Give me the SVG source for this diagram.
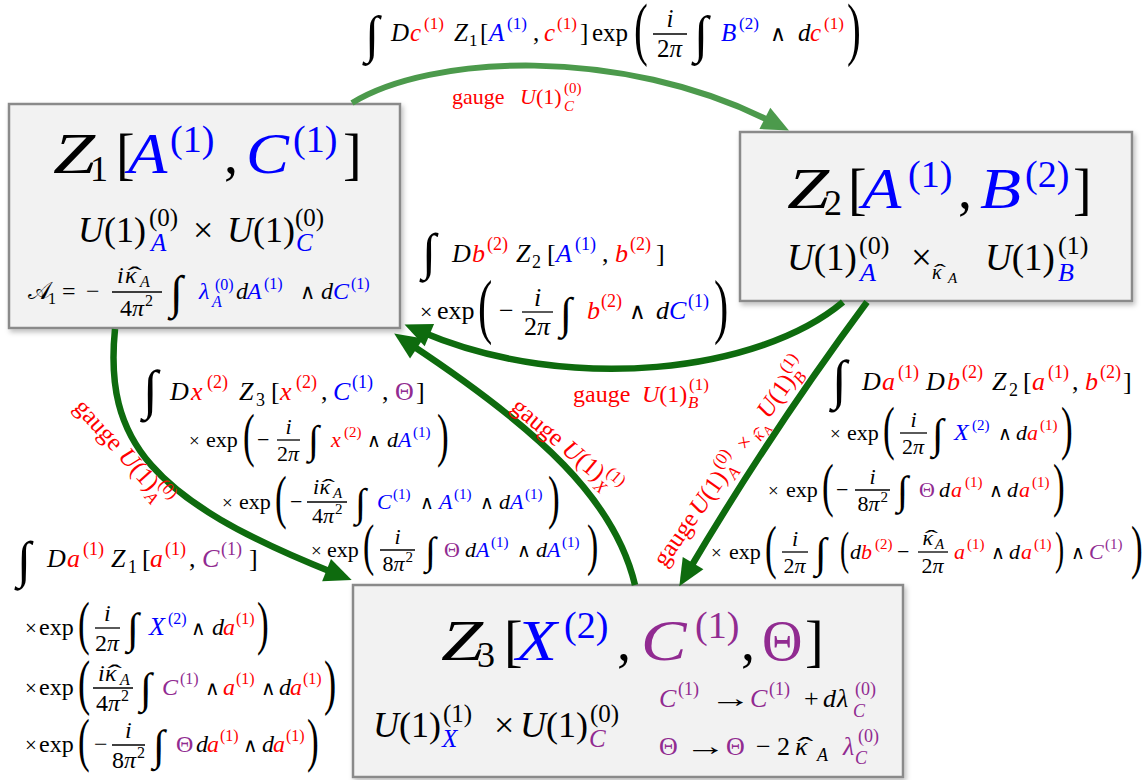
<svg xmlns="http://www.w3.org/2000/svg" width="1148" height="780" viewBox="0 0 1148 780" font-family="Liberation Serif, Times New Roman, DejaVu Serif, serif">
<defs>
<style>
text{font-family:'Liberation Serif','Times New Roman','DejaVu Serif',serif;fill:#000}
.i{font-style:italic}
.r{fill:#f00}
.b{fill:#00f}
.p{fill:#912b91}
.w{font-family:'DejaVu Sans ExtraLight','DejaVu Sans',sans-serif;font-style:normal}
.box{fill:#f2f2f2;stroke:#8a8a8a;stroke-width:2.5}
.ar{fill:none;stroke:#0e6b0e;stroke-width:6.5}
.ar1{fill:none;stroke:#4c9a4c;stroke-width:6}
.fl{stroke:#000;stroke-width:1.3;fill:none}
</style>
<marker id="ahd" markerUnits="userSpaceOnUse" markerWidth="30" markerHeight="26" refX="8" refY="12" orient="auto" overflow="visible"><path d="M0,0 L27,12 L0,24 z" fill="#0e6b0e"/></marker>
<marker id="ahl" markerUnits="userSpaceOnUse" markerWidth="30" markerHeight="26" refX="8" refY="12" orient="auto" overflow="visible"><path d="M0,0 L27,12 L0,24 z" fill="#4c9a4c"/></marker>
<filter id="sh" x="-5%" y="-5%" width="115%" height="120%"><feDropShadow dx="2" dy="3" stdDeviation="2.5" flood-color="#000" flood-opacity="0.25"/></filter>
</defs>
<rect width="1148" height="780" fill="#fff"/>

<g id="z1">
<rect class="box" x="9" y="104" width="391" height="224" filter="url(#sh)"/>
<text class="i" font-size="56" transform="translate(53,173) scale(1.35,1)">Z</text>
<text class="i b" font-size="56" transform="translate(128,173) scale(1.15,1)">A</text>
<text class="i b" font-size="56" transform="translate(246,173) scale(1.15,1)">C</text>
<text font-size="56"><tspan x="90" y="181" font-size="36">1</tspan><tspan x="116" y="173">[</tspan><tspan class="b" x="170" y="152" font-size="38">(1)</tspan><tspan x="224" y="173">,</tspan><tspan class="b" x="293" y="152" font-size="38">(1)</tspan><tspan x="343" y="173">]</tspan></text>
<text font-size="36"><tspan class="i" x="78" y="242">U</tspan><tspan>(1)</tspan><tspan x="149" y="226" font-size="25">(0)</tspan><tspan class="i b" x="151" y="251" font-size="25">A</tspan><tspan x="193" y="242">×</tspan><tspan class="i" x="227" y="242">U</tspan><tspan>(1)</tspan><tspan x="295" y="226" font-size="25">(0)</tspan><tspan class="i b" x="296" y="251" font-size="25">C</tspan></text>
<text font-size="24"><tspan x="28" y="299">𝒜</tspan><tspan x="48" y="304" font-size="16">1</tspan><tspan x="62" y="299">=</tspan><tspan x="86" y="299">−</tspan><tspan class="i" x="117" y="283">i</tspan><tspan class="i" x="125" y="283">κ</tspan><tspan class="i" x="140" y="287" font-size="16">A</tspan><tspan x="120" y="316">4</tspan><tspan class="i" x="132" y="316">π</tspan><tspan x="145" y="306" font-size="16">2</tspan><tspan class="i b" x="199" y="299">λ</tspan><tspan class="b" x="215" y="290" font-size="16">(0)</tspan><tspan class="i b" x="212" y="307" font-size="16">A</tspan><tspan class="i" x="236" y="299">d</tspan><tspan class="i b" x="247" y="299">A</tspan><tspan class="b" x="264" y="289" font-size="16">(1)</tspan><tspan class="w" x="300" y="299" font-size="21">∧</tspan><tspan class="i" x="321" y="299">d</tspan><tspan class="i b" x="333" y="299">C</tspan><tspan class="b" x="351" y="289" font-size="16">(1)</tspan></text>
<text font-size="24" transform="translate(127.4,283) scale(1.8,1)">ˆ</text>
<path class="fl" d="M112,292H162"/>
<text font-size="46.5" transform="translate(170,307.8)">∫</text>
</g>

<g id="z2">
<rect class="box" x="740" y="132" width="392" height="169" filter="url(#sh)"/>
<text class="i" font-size="56" transform="translate(787,208) scale(1.35,1)">Z</text>
<text class="i b" font-size="56" transform="translate(862,208) scale(1.15,1)">A</text>
<text class="i b" font-size="56" transform="translate(980,208) scale(1.2,1)">B</text>
<text font-size="56"><tspan x="824" y="215" font-size="36">2</tspan><tspan x="848" y="208">[</tspan><tspan class="b" x="908" y="187" font-size="38">(1)</tspan><tspan x="958" y="208">,</tspan><tspan class="b" x="1025" y="187" font-size="38">(2)</tspan><tspan x="1073" y="208">]</tspan></text>
<text font-size="37"><tspan class="i" x="787" y="270">U</tspan><tspan>(1)</tspan><tspan x="859" y="254" font-size="26">(0)</tspan><tspan class="i b" x="860" y="281" font-size="26">A</tspan><tspan x="911" y="270">×</tspan><tspan class="i" x="932" y="279" font-size="20">κ</tspan><tspan class="i" x="948" y="283" font-size="15">A</tspan><tspan class="i" x="985" y="270">U</tspan><tspan>(1)</tspan><tspan x="1058" y="254" font-size="26">(1)</tspan><tspan class="i b" x="1058" y="281" font-size="26">B</tspan></text>
<text font-size="20" transform="translate(934,279) scale(1.8,1)">ˆ</text>
</g>

<g id="z3">
<rect class="box" x="353" y="585" width="550" height="192" filter="url(#sh)"/>
<text class="i" font-size="56" transform="translate(441,660) scale(1.35,1)">Z</text>
<text class="i b" font-size="56" transform="translate(516,660) scale(1.2,1)">X</text>
<text class="i p" font-size="56" transform="translate(641,660) scale(1.22,1)">C</text>
<text font-size="56"><tspan x="477" y="667" font-size="36">3</tspan><tspan x="504" y="660">[</tspan><tspan class="b" x="564" y="638" font-size="38">(2)</tspan><tspan x="617" y="660">,</tspan><tspan class="p" x="695" y="638" font-size="38">(1)</tspan><tspan x="741" y="660">,</tspan><tspan class="p" x="762" y="660">Θ</tspan><tspan x="805" y="660">]</tspan></text>
<text font-size="36"><tspan class="i" x="373" y="737">U</tspan><tspan>(1)</tspan><tspan x="443" y="722" font-size="25">(1)</tspan><tspan class="i b" x="442" y="747" font-size="25">X</tspan><tspan x="494" y="737">×</tspan><tspan class="i" x="520" y="737">U</tspan><tspan>(1)</tspan><tspan x="590" y="722" font-size="25">(0)</tspan><tspan class="i p" x="589" y="747" font-size="25">C</tspan></text>
<text font-size="26"><tspan class="i p" x="659" y="707">C</tspan><tspan class="p" x="678" y="695" font-size="18">(1)</tspan><tspan class="i p" x="750" y="707">C</tspan><tspan class="p" x="769" y="695" font-size="18">(1)</tspan><tspan x="804" y="707">+</tspan><tspan class="i" x="823" y="707">d</tspan><tspan class="i" x="837" y="707">λ</tspan><tspan class="p" x="855" y="695" font-size="18">(0)</tspan><tspan class="i p" x="853" y="717" font-size="18">C</tspan></text>
<text font-size="26" transform="translate(710,707) scale(1.6,1)">→</text>
<text font-size="26"><tspan class="p" x="659" y="755">Θ</tspan><tspan class="p" x="726" y="755">Θ</tspan><tspan x="756" y="755">−</tspan><tspan x="777" y="755">2</tspan><tspan class="i" x="795" y="755">κ</tspan><tspan class="i" x="817" y="761" font-size="18">A</tspan><tspan class="i p" x="843" y="755">λ</tspan><tspan class="p" x="858" y="742" font-size="18">(0)</tspan><tspan class="i p" x="855" y="764" font-size="18">C</tspan></text>
<text font-size="26" transform="translate(685,755) scale(1.6,1)">→</text>
<text font-size="26" transform="translate(797.6,755) scale(1.8,1)">ˆ</text>
</g>

<g id="connectors">
<path class="ar1" d="M352,103 C430,55 620,45 772,122" marker-end="url(#ahl)"/>
<path class="ar" d="M843,302 C760,372 570,395 422,332" marker-end="url(#ahd)"/>
<path class="ar" d="M867,302 Q772,430 689,570" marker-end="url(#ahd)"/>
<path class="ar" d="M635,585 C615,500 540,430 410,344" marker-end="url(#ahd)"/>
<path class="ar" d="M115,329 C104,440 150,500 334,573" marker-end="url(#ahd)"/>
</g>

<g id="labels">
<text font-size="22"><tspan class="r" x="452" y="104">gauge</tspan><tspan class="i r" x="520" y="104">U</tspan><tspan class="r">(1)</tspan><tspan class="r" x="564" y="93" font-size="15">(0)</tspan><tspan class="i r" x="564" y="111" font-size="15">C</tspan></text>
<text font-size="24"><tspan class="r" x="573" y="402">gauge</tspan><tspan class="i r" x="642" y="402">U</tspan><tspan class="r">(1)</tspan><tspan class="r" x="689" y="390" font-size="17">(1)</tspan><tspan class="i r" x="688" y="408" font-size="17">B</tspan></text>
<g transform="translate(510,409) rotate(40)"><text font-size="25"><tspan class="r" x="0" y="0">gauge</tspan><tspan class="i r" x="66" y="0">U</tspan><tspan class="r">(1)</tspan><tspan class="r" x="115" y="-11" font-size="17">(1)</tspan><tspan class="i r" x="114" y="7" font-size="17">X</tspan></text></g>
<g transform="translate(665,568) rotate(-55)"><text font-size="25"><tspan class="r" x="0" y="0">gauge</tspan><tspan class="i r" x="63" y="0">U</tspan><tspan class="r">(1)</tspan><tspan class="r" x="112" y="-11" font-size="17">(0)</tspan><tspan class="i r" x="112" y="7" font-size="17">A</tspan><tspan class="r" x="142" y="0" font-size="22">×</tspan><tspan class="i r" x="158" y="6" font-size="17">κ</tspan><tspan class="i r" x="168" y="9" font-size="12">A</tspan><tspan class="i r" x="181" y="0">U</tspan><tspan class="r">(1)</tspan><tspan class="r" x="229" y="-11" font-size="17">(1)</tspan><tspan class="i r" x="228" y="7" font-size="17">B</tspan></text><text class="r" font-size="17" transform="translate(159.7,6) scale(1.8,1)">ˆ</text></g>
<g transform="translate(73,408) rotate(48)"><text font-size="25"><tspan class="r" x="0" y="0">gauge</tspan><tspan class="i r" x="66" y="0">U</tspan><tspan class="r">(1)</tspan><tspan class="r" x="114" y="-11" font-size="17">(0)</tspan><tspan class="i r" x="114" y="7" font-size="17">A</tspan></text></g>
</g>

<g id="f-top">
<text font-size="51.8" transform="translate(365,52)">∫</text>
<text font-size="51.8" transform="translate(694,52)">∫</text>
<text font-size="69.2" transform="translate(634,51.8) scale(0.6,1)">(</text>
<text font-size="69.2" transform="translate(847,51.8) scale(0.6,1)">)</text>
<path class="fl" d="M653,34H687"/>
<text font-size="25"><tspan class="i" x="391" y="41">D</tspan><tspan class="i r" x="410" y="41">c</tspan><tspan class="r" x="424" y="29" font-size="17">(1)</tspan><tspan class="i" x="454" y="41">Z</tspan><tspan x="469" y="46" font-size="17">1</tspan><tspan x="480" y="41">[</tspan><tspan class="i b" x="489" y="41">A</tspan><tspan class="b" x="507" y="29" font-size="17">(1)</tspan><tspan x="533" y="41">,</tspan><tspan class="i r" x="544" y="41">c</tspan><tspan class="r" x="557" y="29" font-size="17">(1)</tspan><tspan x="580" y="41">]</tspan><tspan x="592" y="41">exp</tspan><tspan class="i" x="666.5" y="27">i</tspan><tspan x="657" y="57">2</tspan><tspan class="i">π</tspan><tspan class="i b" x="721" y="41">B</tspan><tspan class="b" x="739" y="29" font-size="17">(2)</tspan><tspan class="w" x="770" y="41" font-size="22">∧</tspan><tspan class="i" x="798" y="41">d</tspan><tspan class="i r" x="810" y="41">c</tspan><tspan class="r" x="824" y="29" font-size="17">(1)</tspan></text>
</g>

<g id="f-a">
<text font-size="50.9" transform="translate(422,268.8)">∫</text>
<text font-size="26"><tspan class="i" x="452" y="262">D</tspan><tspan class="i r" x="472" y="262">b</tspan><tspan class="r" x="487" y="250" font-size="18">(2)</tspan><tspan class="i" x="516" y="262">Z</tspan><tspan x="532" y="268" font-size="18">2</tspan><tspan x="547" y="262">[</tspan><tspan class="i b" x="556" y="262">A</tspan><tspan class="b" x="575" y="250" font-size="18">(1)</tspan><tspan x="602" y="262">,</tspan><tspan class="i r" x="615" y="262">b</tspan><tspan class="r" x="630" y="250" font-size="18">(2)</tspan><tspan x="656" y="262">]</tspan></text>
<text font-size="71.5" transform="translate(478,330.3) scale(0.6,1)">(</text>
<text font-size="71.5" transform="translate(714,330.3) scale(0.6,1)">)</text>
<path class="fl" d="M522,312H553"/>
<text font-size="43.9" transform="translate(560,328.4)">∫</text>
<text font-size="26"><tspan x="420" y="319" font-size="22">×</tspan><tspan x="437" y="319">exp</tspan><tspan x="499" y="319">−</tspan><tspan class="i" x="534" y="306">i</tspan><tspan x="524" y="335">2</tspan><tspan class="i">π</tspan><tspan class="i r" x="587" y="319">b</tspan><tspan class="r" x="601" y="307" font-size="18">(2)</tspan><tspan class="w" x="629" y="319" font-size="23">∧</tspan><tspan class="i" x="656" y="319">d</tspan><tspan class="i b" x="669" y="319">C</tspan><tspan class="b" x="688" y="307" font-size="18">(1)</tspan></text>
</g>

<g id="f-b">
<text font-size="54.4" transform="translate(143,408)">∫</text>
<text font-size="26"><tspan class="i" x="170" y="400">D</tspan><tspan class="i r" x="191" y="400">x</tspan><tspan class="r" x="207" y="388" font-size="18">(2)</tspan><tspan class="i" x="239" y="400">Z</tspan><tspan x="256" y="406" font-size="18">3</tspan><tspan x="271" y="400">[</tspan><tspan class="i r" x="280" y="400">x</tspan><tspan class="r" x="296" y="388" font-size="18">(2)</tspan><tspan x="321" y="400">,</tspan><tspan class="i b" x="333" y="400">C</tspan><tspan class="b" x="352" y="388" font-size="18">(1)</tspan><tspan x="382" y="400">,</tspan><tspan class="p" x="395" y="400">Θ</tspan><tspan x="416" y="400">]</tspan></text>
<text font-size="58.6" transform="translate(243,454.6) scale(0.6,1)">(</text>
<text font-size="58.6" transform="translate(437,454.6) scale(0.6,1)">)</text>
<path class="fl" d="M277,440H300"/>
<text font-size="39.5" transform="translate(308,453.3)">∫</text>
<text font-size="22"><tspan x="189" y="447" font-size="19">×</tspan><tspan x="206" y="447">exp</tspan><tspan x="257" y="447">−</tspan><tspan class="i" x="285.5" y="434">i</tspan><tspan x="277" y="461">2</tspan><tspan class="i">π</tspan><tspan class="i r" x="331" y="447">x</tspan><tspan class="r" x="344" y="437" font-size="15">(2)</tspan><tspan class="w" x="367" y="447" font-size="19">∧</tspan><tspan class="i" x="387" y="447">d</tspan><tspan class="i b" x="398" y="447">A</tspan><tspan class="b" x="413" y="437" font-size="15">(1)</tspan></text>
<text font-size="58.6" transform="translate(275,516.6) scale(0.6,1)">(</text>
<text font-size="58.6" transform="translate(548,516.6) scale(0.6,1)">)</text>
<path class="fl" d="M307,502H347"/>
<text font-size="39.5" transform="translate(355,516.3)">∫</text>
<text font-size="22"><tspan x="222" y="509" font-size="19">×</tspan><tspan x="239" y="509">exp</tspan><tspan x="290" y="509">−</tspan><tspan class="i" x="313" y="494">i</tspan><tspan class="i" x="319.5" y="494">κ</tspan><tspan class="i" x="333" y="498" font-size="15">A</tspan><tspan x="312" y="523">4</tspan><tspan class="i" x="323" y="523">π</tspan><tspan x="335" y="514" font-size="15">2</tspan><tspan class="i b" x="377" y="509">C</tspan><tspan class="b" x="393" y="499" font-size="15">(1)</tspan><tspan class="w" x="420" y="509" font-size="19">∧</tspan><tspan class="i b" x="439" y="509">A</tspan><tspan class="b" x="454" y="499" font-size="15">(1)</tspan><tspan class="w" x="480" y="509" font-size="19">∧</tspan><tspan class="i" x="499" y="509">d</tspan><tspan class="i b" x="510" y="509">A</tspan><tspan class="b" x="525" y="499" font-size="15">(1)</tspan></text>
<text font-size="22" transform="translate(321.7,494) scale(1.8,1)">ˆ</text>
<text font-size="56.3" transform="translate(363,564) scale(0.6,1)">(</text>
<text font-size="56.3" transform="translate(587,564) scale(0.6,1)">)</text>
<path class="fl" d="M380,550H415"/>
<text font-size="38.6" transform="translate(425,563.5)">∫</text>
<text font-size="22"><tspan x="311" y="557" font-size="19">×</tspan><tspan x="327" y="557">exp</tspan><tspan class="i" x="394.5" y="544">i</tspan><tspan x="382.5" y="571">8</tspan><tspan class="i" x="393.5" y="571">π</tspan><tspan x="405.5" y="562" font-size="15">2</tspan><tspan class="p" x="444" y="557">Θ</tspan><tspan class="i" x="465" y="557">d</tspan><tspan class="i b" x="476" y="557">A</tspan><tspan class="b" x="491" y="547" font-size="15">(1)</tspan><tspan class="w" x="517" y="557" font-size="19">∧</tspan><tspan class="i" x="536" y="557">d</tspan><tspan class="i b" x="547" y="557">A</tspan><tspan class="b" x="562" y="547" font-size="15">(1)</tspan></text>
</g>

<g id="f-c">
<text font-size="54.4" transform="translate(832,398)">∫</text>
<text font-size="26"><tspan class="i" x="862" y="390">D</tspan><tspan class="i r" x="882" y="390">a</tspan><tspan class="r" x="898" y="378" font-size="18">(1)</tspan><tspan class="i" x="926" y="390">D</tspan><tspan class="i r" x="947" y="390">b</tspan><tspan class="r" x="962" y="378" font-size="18">(2)</tspan><tspan class="i" x="992" y="390">Z</tspan><tspan x="1009" y="396" font-size="18">2</tspan><tspan x="1023" y="390">[</tspan><tspan class="i r" x="1032" y="390">a</tspan><tspan class="r" x="1048" y="378" font-size="18">(1)</tspan><tspan x="1072" y="390">,</tspan><tspan class="i r" x="1085" y="390">b</tspan><tspan class="r" x="1100" y="378" font-size="18">(2)</tspan><tspan x="1123" y="390">]</tspan></text>
<text font-size="58.6" transform="translate(883,447.6) scale(0.6,1)">(</text>
<text font-size="58.6" transform="translate(1061,447.6) scale(0.6,1)">)</text>
<path class="fl" d="M900,433H927"/>
<text font-size="42.1" transform="translate(932,447.7)">∫</text>
<text font-size="22"><tspan x="830" y="440" font-size="19">×</tspan><tspan x="847" y="440">exp</tspan><tspan class="i" x="910.5" y="427">i</tspan><tspan x="902" y="454">2</tspan><tspan class="i">π</tspan><tspan class="i b" x="954" y="440" font-size="24">X</tspan><tspan class="b" x="972" y="430" font-size="15">(2)</tspan><tspan class="w" x="998" y="440" font-size="19">∧</tspan><tspan class="i" x="1016" y="440">d</tspan><tspan class="i r" x="1027" y="440">a</tspan><tspan class="r" x="1040" y="430" font-size="15">(1)</tspan></text>
<text font-size="58.6" transform="translate(822,504.6) scale(0.6,1)">(</text>
<text font-size="58.6" transform="translate(1053,504.6) scale(0.6,1)">)</text>
<path class="fl" d="M855,490H890"/>
<text font-size="40.4" transform="translate(897,504.1)">∫</text>
<text font-size="22"><tspan x="768" y="497" font-size="19">×</tspan><tspan x="786" y="497">exp</tspan><tspan x="836" y="497">−</tspan><tspan class="i" x="869.5" y="484">i</tspan><tspan x="857.5" y="511">8</tspan><tspan class="i" x="868.5" y="511">π</tspan><tspan x="880.5" y="502" font-size="15">2</tspan><tspan class="p" x="919" y="497">Θ</tspan><tspan class="i" x="939" y="497">d</tspan><tspan class="i r" x="951" y="497">a</tspan><tspan class="r" x="965" y="487" font-size="15">(1)</tspan><tspan class="w" x="989" y="497" font-size="19">∧</tspan><tspan class="i" x="1007" y="497">d</tspan><tspan class="i r" x="1019" y="497">a</tspan><tspan class="r" x="1032" y="487" font-size="15">(1)</tspan></text>
<text font-size="58.6" transform="translate(765,566.6) scale(0.6,1)">(</text>
<text font-size="58.6" transform="translate(1131,566.6) scale(0.6,1)">)</text>
<text font-size="45.7" transform="translate(840,563.9) scale(0.6,1)">(</text>
<text font-size="45.7" transform="translate(1055,563.9) scale(0.6,1)">)</text>
<path class="fl" d="M782,552H808"/>
<path class="fl" d="M918,552H948"/>
<text font-size="42.1" transform="translate(815,566.7)">∫</text>
<text font-size="22"><tspan x="711" y="559" font-size="19">×</tspan><tspan x="729" y="559">exp</tspan><tspan class="i" x="792" y="546">i</tspan><tspan x="783.5" y="573">2</tspan><tspan class="i">π</tspan><tspan class="i" x="850" y="559">d</tspan><tspan class="i r" x="861" y="559">b</tspan><tspan class="r" x="875" y="549" font-size="15">(2)</tspan><tspan x="897" y="559">−</tspan><tspan class="i" x="922.5" y="545">κ</tspan><tspan class="i" x="935" y="549" font-size="15">A</tspan><tspan x="921.5" y="573">2</tspan><tspan class="i">π</tspan><tspan class="i r" x="954" y="559">a</tspan><tspan class="r" x="967" y="549" font-size="15">(1)</tspan><tspan class="w" x="991" y="559" font-size="19">∧</tspan><tspan class="i" x="1009" y="559">d</tspan><tspan class="i r" x="1021" y="559">a</tspan><tspan class="r" x="1034" y="549" font-size="15">(1)</tspan><tspan class="w" x="1071" y="559" font-size="19">∧</tspan><tspan class="i p" x="1089" y="559">C</tspan><tspan class="p" x="1105" y="549" font-size="15">(1)</tspan></text>
<text font-size="22" transform="translate(924.7,545) scale(1.8,1)">ˆ</text>
</g>

<g id="f-d">
<text font-size="50.9" transform="translate(17,576.8)">∫</text>
<text font-size="26"><tspan class="i" x="47" y="567">D</tspan><tspan class="i r" x="67" y="567">a</tspan><tspan class="r" x="83" y="555" font-size="18">(1)</tspan><tspan class="i" x="111" y="567">Z</tspan><tspan x="128" y="573" font-size="18">1</tspan><tspan x="142" y="567">[</tspan><tspan class="i r" x="150" y="567">a</tspan><tspan class="r" x="165" y="555" font-size="18">(1)</tspan><tspan x="189" y="567">,</tspan><tspan class="i p" x="202" y="567">C</tspan><tspan class="p" x="221" y="555" font-size="18">(1)</tspan><tspan x="249" y="567">]</tspan></text>
<text font-size="58.6" transform="translate(78,642.6) scale(0.6,1)">(</text>
<text font-size="58.6" transform="translate(257,642.6) scale(0.6,1)">)</text>
<path class="fl" d="M95,628H120"/>
<text font-size="43" transform="translate(127,642.6)">∫</text>
<text font-size="24"><tspan x="25" y="635" font-size="21">×</tspan><tspan x="39" y="635">exp</tspan><tspan class="i" x="104" y="621">i</tspan><tspan x="95" y="651">2</tspan><tspan class="i">π</tspan><tspan class="i b" x="149" y="635" font-size="26">X</tspan><tspan class="b" x="168" y="624" font-size="16">(2)</tspan><tspan class="w" x="191" y="635" font-size="20">∧</tspan><tspan class="i" x="212" y="635">d</tspan><tspan class="i r" x="223" y="635">a</tspan><tspan class="r" x="236" y="624" font-size="16">(1)</tspan></text>
<text font-size="61" transform="translate(78,703.2) scale(0.6,1)">(</text>
<text font-size="61" transform="translate(324,703.2) scale(0.6,1)">)</text>
<path class="fl" d="M93,688H133"/>
<text font-size="43" transform="translate(140,702.6)">∫</text>
<text font-size="24"><tspan x="25" y="695" font-size="21">×</tspan><tspan x="39" y="695">exp</tspan><tspan class="i" x="98" y="681">i</tspan><tspan class="i" x="105" y="681">κ</tspan><tspan class="i" x="120" y="685" font-size="16">A</tspan><tspan x="96" y="711">4</tspan><tspan class="i" x="108" y="711">π</tspan><tspan x="121" y="701" font-size="16">2</tspan><tspan class="i p" x="162" y="695">C</tspan><tspan class="p" x="180" y="684" font-size="16">(1)</tspan><tspan class="w" x="205" y="695" font-size="20">∧</tspan><tspan class="i r" x="223" y="695">a</tspan><tspan class="r" x="236" y="684" font-size="16">(1)</tspan><tspan class="w" x="261" y="695" font-size="20">∧</tspan><tspan class="i" x="279" y="695">d</tspan><tspan class="i r" x="290" y="695">a</tspan><tspan class="r" x="303" y="684" font-size="16">(1)</tspan></text>
<text font-size="24" transform="translate(107.4,681) scale(1.8,1)">ˆ</text>
<text font-size="58.6" transform="translate(78,759.6) scale(0.6,1)">(</text>
<text font-size="58.6" transform="translate(307,759.6) scale(0.6,1)">)</text>
<path class="fl" d="M112,745H145"/>
<text font-size="43" transform="translate(153,759.6)">∫</text>
<text font-size="24"><tspan x="25" y="752" font-size="21">×</tspan><tspan x="39" y="752">exp</tspan><tspan x="94" y="752">−</tspan><tspan class="i" x="125" y="738">i</tspan><tspan x="112" y="768">8</tspan><tspan class="i" x="124" y="768">π</tspan><tspan x="137" y="758" font-size="16">2</tspan><tspan class="p" x="176" y="752">Θ</tspan><tspan class="i" x="196" y="752">d</tspan><tspan class="i r" x="207" y="752">a</tspan><tspan class="r" x="220" y="741" font-size="16">(1)</tspan><tspan class="w" x="243" y="752" font-size="20">∧</tspan><tspan class="i" x="262" y="752">d</tspan><tspan class="i r" x="273" y="752">a</tspan><tspan class="r" x="286" y="741" font-size="16">(1)</tspan></text>
</g>
</svg>
